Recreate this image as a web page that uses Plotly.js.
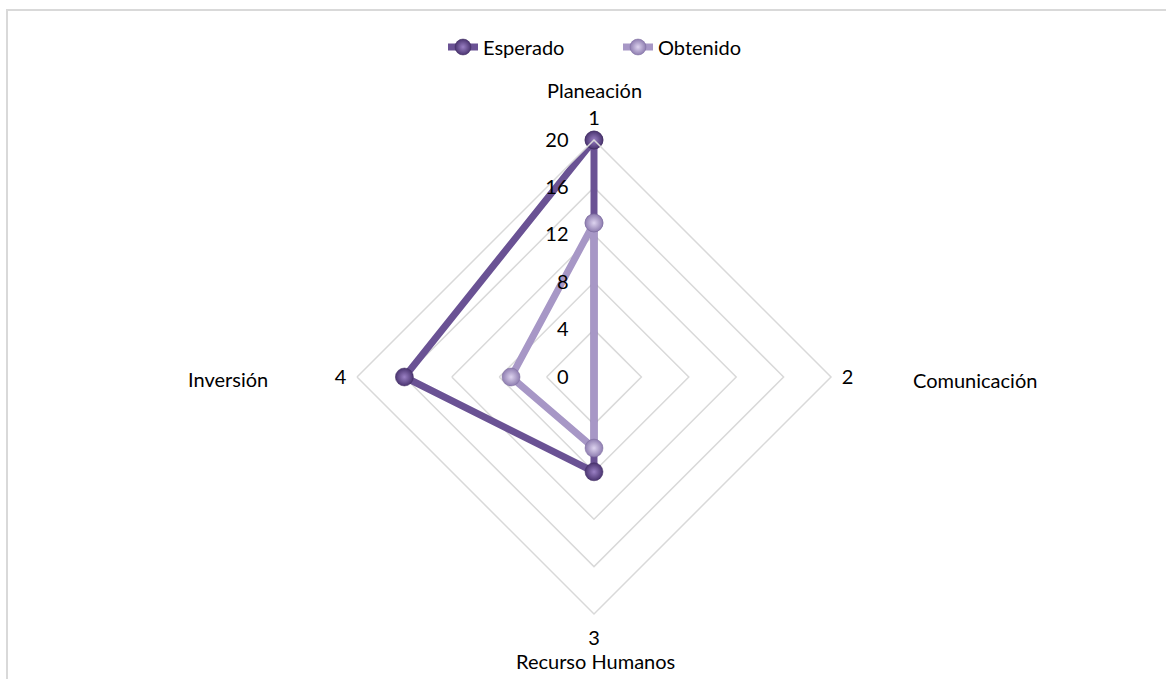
<!DOCTYPE html>
<html>
<head>
<meta charset="utf-8">
<script src="https://cdn.plot.ly/plotly-3.0.1.min.js"></script>
<style>
  html, body { margin: 0; padding: 0; background: #fff; }
  #wrap { position: relative; width: 1166px; height: 679px; overflow: hidden; }
  #chart { width: 1166px; height: 679px; }
  #frame { position: absolute; left: 6px; top: 9px; width: 1200px; height: 700px;
           border: 2px solid #d9d9d9; pointer-events: none; box-sizing: border-box; }
</style>
</head>
<body>
<div id="wrap">
  <div id="chart"></div>
  <div id="frame"></div>
</div>
<script>
const categories = ['Planeación', 'Comunicación', 'Recurso Humanos', 'Inversión'];
const categoryNumbers = ['1', '2', '3', '4'];
const esperado = [20, 0, 8, 16];
const obtenido = [13, 0, 6, 7];
const radialTicks = [0, 4, 8, 12, 16, 20];

const closeLoop = a => a.concat([a[0]]);
const FONT = 'Lato, "Noto Sans", "Open Sans", sans-serif';
const FS = 20;

const traces = [
  {
    type: 'scatterpolar', name: 'Esperado', mode: 'lines+markers',
    r: closeLoop(esperado), theta: closeLoop(categories),
    line: { color: '#6a5294', width: 7 },
    marker: { size: 18, color: '#4a3470', line: { color: '#3e2a5e', width: 0.5 },
              gradient: { type: 'radial', color: '#9a80c4' } },
    cliponaxis: false
  },
  {
    type: 'scatterpolar', name: 'Obtenido', mode: 'lines+markers',
    r: closeLoop(obtenido), theta: closeLoop(categories),
    line: { color: '#a797c6', width: 7 },
    marker: { size: 18, color: '#8e7db0', line: { color: '#7a6a9c', width: 0.5 },
              gradient: { type: 'radial', color: '#ddd3ef' } },
    cliponaxis: false
  }
];

const R = 237;
const cyFromBottom = 679 - 377;

const layout = {
  width: 1166, height: 679,
  margin: { l: 0, r: 0, t: 0, b: 0 },
  paper_bgcolor: '#ffffff',
  font: { family: FONT, size: FS, color: '#000' },
  showlegend: true,
  legend: { orientation: 'h', x: 443 / 1166, xanchor: 'left', y: 1 - 47 / 679, yanchor: 'middle',
            entrywidth: 130, entrywidthmode: 'pixels',
            font: { family: FONT, size: FS, color: '#000' } },
  polar: {
    gridshape: 'linear',
    bgcolor: 'rgba(0,0,0,0)',
    domain: { x: [(594 - R) / 1166, (594 + R) / 1166],
              y: [(cyFromBottom - R) / 679, (cyFromBottom + R) / 679] },
    radialaxis: {
      range: [0, 20], tickvals: radialTicks, ticktext: radialTicks.map(String),
      angle: 90, side: 'counterclockwise', tickangle: 90, layer: 'above traces',
      showline: false, ticks: 'outside', ticklen: 18, tickcolor: 'rgba(0,0,0,0)',
      showgrid: true, gridcolor: '#d9d9d9', gridwidth: 1.5,
      tickfont: { family: FONT, size: FS, color: '#000' }
    },
    angularaxis: {
      type: 'category', categoryarray: categories,
      tickvals: categories, ticktext: categoryNumbers,
      direction: 'clockwise', rotation: 90,
      showgrid: false, ticks: 'outside', ticklen: 6, tickcolor: 'rgba(0,0,0,0)',
      showline: true, linecolor: '#d9d9d9', linewidth: 1.5,
      tickfont: { family: FONT, size: FS, color: '#000' }
    }
  },
  annotations: [
    { text: categories[0], xref: 'paper', yref: 'paper', x: 594 / 1166, y: 1 - 90 / 679, showarrow: false, xanchor: 'center', yanchor: 'middle' },
    { text: categories[1], xref: 'paper', yref: 'paper', x: 975 / 1166, y: 1 - 380 / 679, showarrow: false, xanchor: 'center', yanchor: 'middle' },
    { text: categories[2], xref: 'paper', yref: 'paper', x: 595 / 1166, y: 1 - 661 / 679, showarrow: false, xanchor: 'center', yanchor: 'middle' },
    { text: categories[3], xref: 'paper', yref: 'paper', x: 228 / 1166, y: 1 - 379 / 679, showarrow: false, xanchor: 'center', yanchor: 'middle' }
  ]
};

Plotly.newPlot('chart', traces, layout, { displayModeBar: false, staticPlot: true });
</script>
</body>
</html>
